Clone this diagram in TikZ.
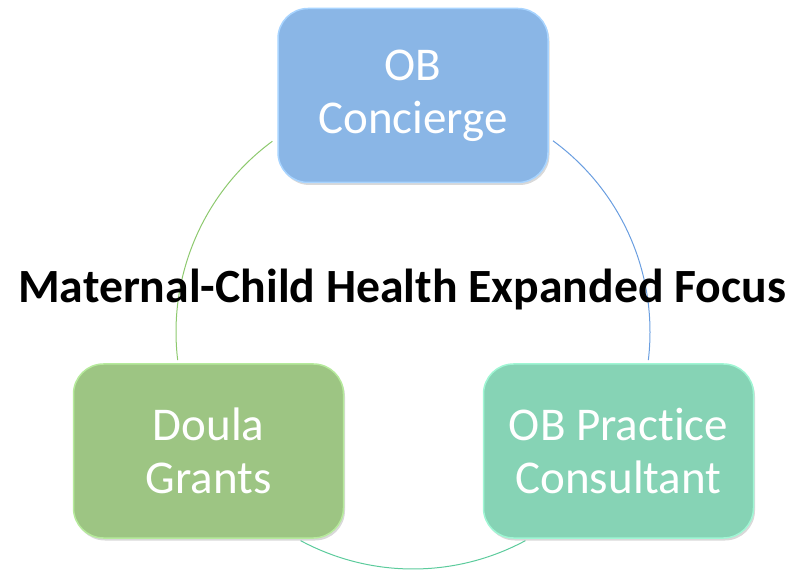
\documentclass[tikz,border=0pt]{standalone}
\usepackage{fontspec}
\setmainfont{Carlito}[Ligatures=NoCommon]
\usetikzlibrary{shadows}
\definecolor{boxblue}{HTML}{8AB6E6}
\definecolor{rimblue}{HTML}{A8D4FF}
\definecolor{boxgreen}{HTML}{9DC583}
\definecolor{rimgreen}{HTML}{B6EA9C}
\definecolor{boxteal}{HTML}{86D3B5}
\definecolor{rimteal}{HTML}{A0F6D4}
\definecolor{arcgreen}{HTML}{8DC96E}
\definecolor{arcblue}{HTML}{6A9EE0}
\definecolor{arcteal}{HTML}{5CCB9C}

\begin{document}
\begin{tikzpicture}
  [x=1pt,y=1pt,
   box/.style={rounded corners=30pt,minimum width=270pt,minimum height=174pt,
     inner sep=0pt,align=center,text=white,line width=1.5pt,
     font=\fontsize{47}{53}\selectfont,
     drop shadow={opacity=0.3,shadow xshift=1.5pt,shadow yshift=-2.5pt}},
   link/.style={line width=1pt}]
  \useasboundingbox (0,0) rectangle (805,573);
  \coordinate (ctr) at (413,241);
  % ring behind the boxes
  \foreach \from/\to/\col in {126.4/186.8/arcgreen,53.8/-6.8/arcblue,241.7/298.3/arcteal}
    \draw[link,\col] (ctr) ++(\from:237) arc (\from:\to:237);
  \node[box,fill=boxblue,draw=rimblue] (nob) at (413,477.5) {OB\\Concierge};
  \node[box,fill=boxgreen,draw=rimgreen] (ndoula) at (208.5,122) {Doula\\Grants};
  \node[box,fill=boxteal,draw=rimteal] (nprac) at (618.5,122) {OB Practice\\Consultant};
  \node[anchor=base,inner sep=0pt,font=\fontsize{47.7}{55}\selectfont\bfseries] (ntitle) at (402,270) {Maternal-Child Health Expanded Focus};
\end{tikzpicture}
\end{document}
